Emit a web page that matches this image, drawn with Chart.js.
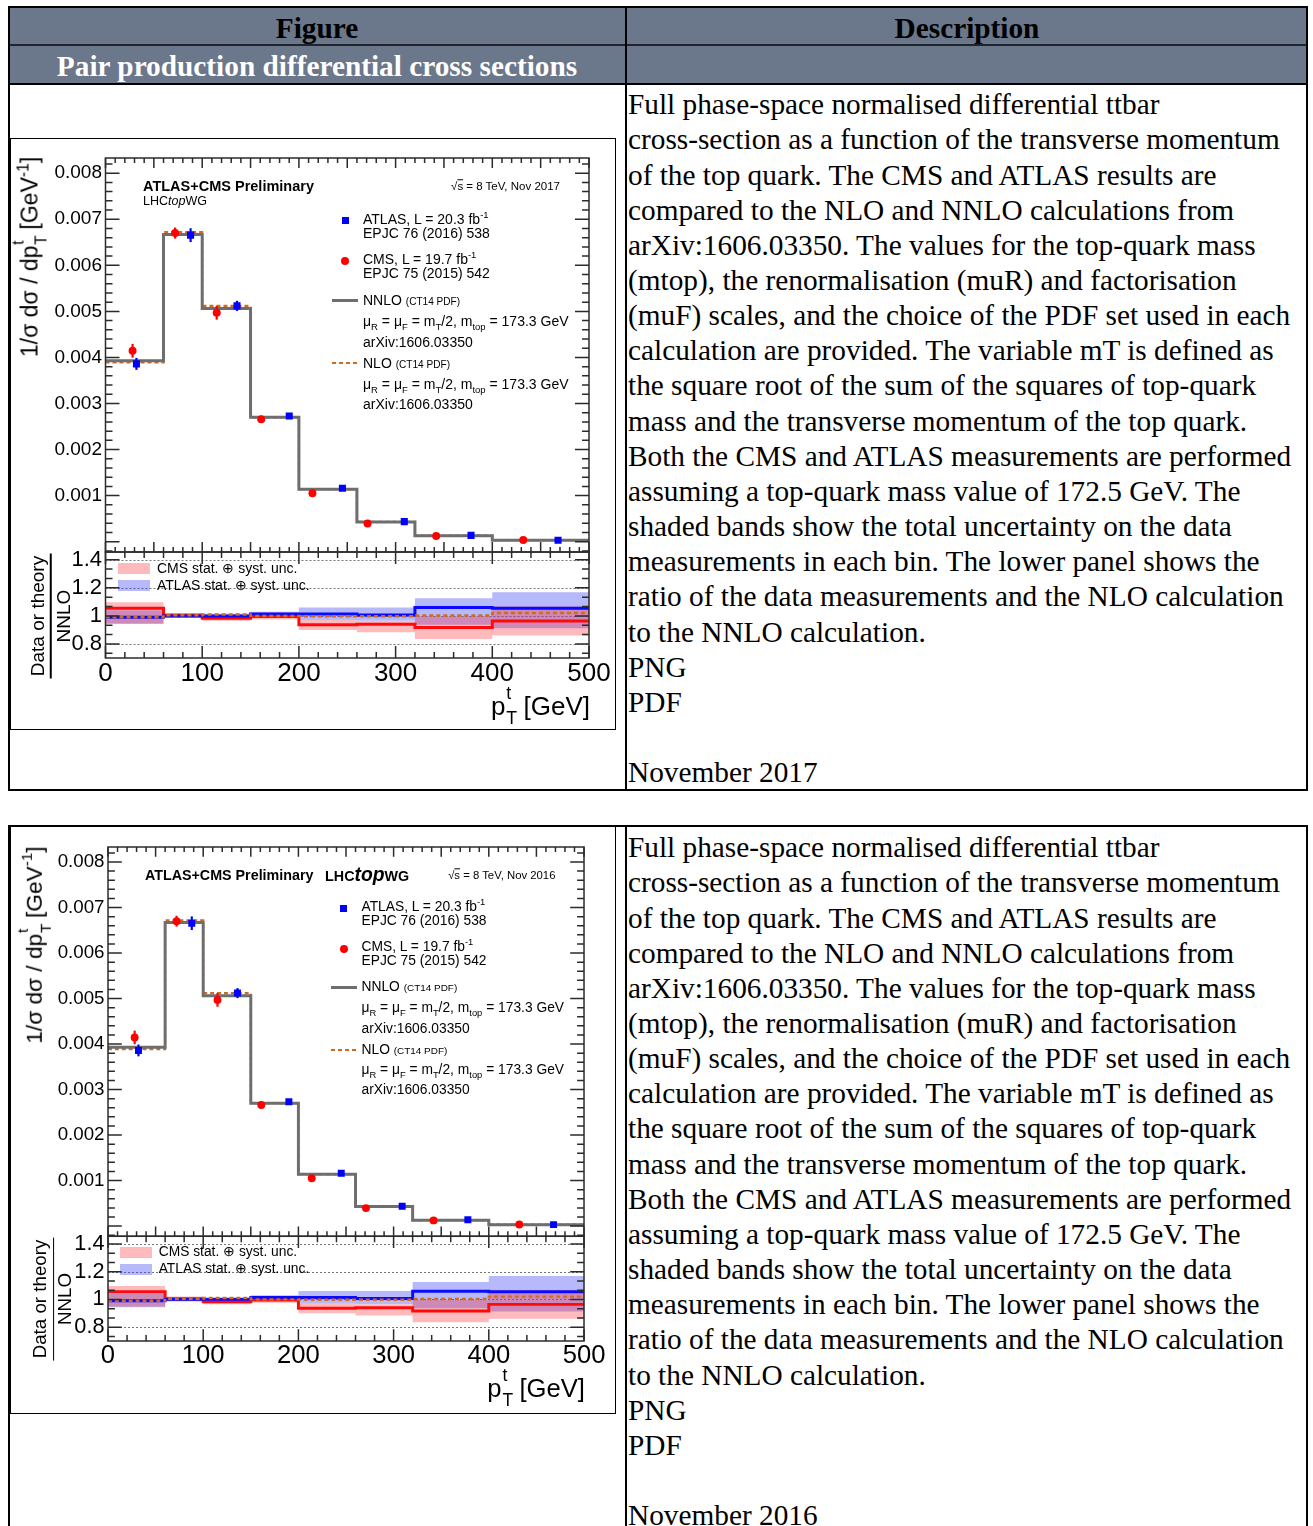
<!DOCTYPE html>
<html>
<head>
<meta charset="utf-8">
<title>Pair production differential cross sections</title>
<script src="https://cdn.jsdelivr.net/npm/chart.js@4.4.1/dist/chart.umd.min.js"></script>
<style>
  html, body { margin: 0; padding: 0; background: #fff; overflow: hidden; width: 1313px; height: 1526px; }
  #page { position: relative; width: 1313px; height: 1526px; font-family: "Liberation Serif", "Times New Roman", serif; }
  .t { position: absolute; white-space: nowrap; }
  .t sub { font-size: 0.68em; vertical-align: -0.45em; line-height: 0; }
  .t sup { font-size: 0.68em; vertical-align: 0.6em; line-height: 0; }
  .stk { position: relative; display: inline-block; width: 0.42em; height: 1em; }
  .stk .up { position: absolute; left: 0.05em; top: -0.25em; font-size: 0.68em; }
  .stk .dn { position: absolute; left: 0.05em; top: 1.2em; font-size: 0.68em; }
  .desc { font-size: 29.3px; line-height: 35.15px; color: #000; }
  .head { font-weight: bold; font-size: 29.3px; line-height: 35.15px; transform: translateX(-50%); }
  canvas { position: absolute; }
</style>
</head>
<body>
<div id="page"></div>
<script>
// ---- values ----
const binEdges = [0, 60, 100, 150, 200, 260, 320, 400, 500];
const nnloXsec = [0.00393, 0.00667, 0.00506, 0.00270, 0.00114, 0.00043, 0.00013, 0.00003];
const nloXsec = [0.00389, 0.00672, 0.00512, 0.00270, 0.00114, 0.00043, 0.00013, 0.000031];

const cmsPt = [28, 72, 115, 161, 214, 271, 342, 432];
const cmsXsec = [0.004145, 0.00670, 0.00497, 0.00266, 0.00105, 0.000395, 0.000125, 0.000035];
const cmsErr = [0.00015, 0.00012, 0.00015, 0.00006, 0.00003, 0.000012, 0.000006, 0.000002];

const atlasPt = [32, 88, 136, 190, 245, 309, 378, 468];
const atlasXsec = [0.00386, 0.006655, 0.00512, 0.00273, 0.00116, 0.000435, 0.000137, 0.000032];
const atlasErr = [0.00013, 0.00015, 0.00011, 0.00004, 0.00003, 0.000012, 0.000006, 0.000002];

// lower panel: ratio to NNLO
const nloRatio = [0.99, 1.005, 1.01, 1.0, 0.998, 0.998, 1.003, 1.02];
const cmsRatio = [1.055, 1.005, 0.983, 0.995, 0.936, 0.94, 0.917, 0.964];
const cmsBandLo = [0.948, 0.99, 0.965, 0.975, 0.90, 0.884, 0.836, 0.86];
const cmsBandHi = [1.097, 1.02, 1.0, 1.015, 0.97, 0.964, 0.995, 1.066];
const atlasRatio = [0.99, 1.0, 1.0, 1.014, 1.014, 1.007, 1.059, 1.055];
const atlasBandLo = [0.943, 0.985, 0.985, 0.995, 0.97, 0.965, 0.936, 0.912];
const atlasBandHi = [1.04, 1.015, 1.015, 1.03, 1.06, 1.06, 1.126, 1.169];

// tick labels
const yTicksTop = [0.001, 0.002, 0.003, 0.004, 0.005, 0.006, 0.007, 0.008];
const yLabelsTop = ['0.001', '0.002', '0.003', '0.004', '0.005', '0.006', '0.007', '0.008'];
const yTicksRatio = [0.8, 1.0, 1.2, 1.4];
const yLabelsRatio = ['0.8', '1', '1.2', '1.4'];
const xTicks = [0, 100, 200, 300, 400, 500];
const xLabels = ['0', '100', '200', '300', '400', '500'];

const NLO_COL = '#d2691e';
const NNLO_COL = '#6e6e6e';
const CMS_BAND = 'rgba(255, 40, 50, 0.32)';
const ATLAS_BAND = 'rgba(40, 50, 240, 0.34)';
const HEAD_BG = '#6b778a';

const page = document.getElementById('page');

function el(tag, cls, css, html) {
    const d = document.createElement(tag);
    if (cls) d.className = cls;
    d.style.cssText = css;
    if (html) d.innerHTML = html;
    page.appendChild(d);
    return d;
}
function rect(x, y, w, h, css) {
    return el('div', '', `position:absolute;left:${x}px;top:${y}px;width:${w}px;height:${h}px;box-sizing:border-box;${css}`);
}
function txt(x, y, html, css, cls) {
    return el('div', 't ' + (cls || ''), `left:${x}px;top:${y}px;${css}`, html);
}

// histogram as a stepped line: one point per left bin edge plus the last right edge
function histPts(vals) {
    return binEdges.map((e, i) => ({ x: e, y: vals[Math.min(i, vals.length - 1)] }));
}

// ROOT style frame with ticks pointing inwards on all four sides
const rootFrame = {
    id: 'rootFrame',
    afterDatasetsDraw(chart, args, o) {
        const { ctx, chartArea: a } = chart;
        const xs = chart.scales.x, ys = chart.scales.y;
        ctx.save();
        ctx.strokeStyle = '#2b2b2b';
        ctx.lineWidth = o.lw;
        ctx.beginPath();
        const k0 = Math.ceil((xs.min - o.xBase) / o.xMinor - 1e-6);
        for (let k = k0; o.xBase + k * o.xMinor <= xs.max + 1e-6; k++) {
            const p = xs.getPixelForValue(o.xBase + k * o.xMinor);
            const L = (((k % o.xEvery) + o.xEvery) % o.xEvery === 0) ? o.xLen : o.xLen / 2;
            ctx.moveTo(p, a.bottom); ctx.lineTo(p, a.bottom - L);
            ctx.moveTo(p, a.top); ctx.lineTo(p, a.top + L);
        }
        const j0 = Math.ceil((ys.min - o.yBase) / o.yMinor - 1e-6);
        for (let k = j0; o.yBase + k * o.yMinor <= ys.max + o.yMinor * 1e-6; k++) {
            const p = ys.getPixelForValue(o.yBase + k * o.yMinor);
            const L = (((k % o.yEvery) + o.yEvery) % o.yEvery === 0) ? o.yLen : o.yLen / 2;
            ctx.moveTo(a.left, p); ctx.lineTo(a.left + L, p);
            ctx.moveTo(a.right, p); ctx.lineTo(a.right - L, p);
        }
        ctx.stroke();
        ctx.strokeRect(a.left, a.top, a.right - a.left, a.bottom - a.top);
        ctx.restore();
    }
};

// dotted reference lines in the ratio panel
const refLines = {
    id: 'refLines',
    beforeDatasetsDraw(chart, args, o) {
        if (!o.values || !o.values.length) return;
        const { ctx, chartArea: a } = chart;
        const ys = chart.scales.y;
        ctx.save();
        ctx.strokeStyle = '#777';
        ctx.lineWidth = o.width;
        ctx.setLineDash(o.dash);
        o.values.forEach(v => {
            const p = Math.round(ys.getPixelForValue(v)) + 0.5;
            ctx.beginPath(); ctx.moveTo(a.left, p); ctx.lineTo(a.right, p); ctx.stroke();
        });
        ctx.restore();
    }
};

// vertical error bars under the markers
const errorBars = {
    id: 'errorBars',
    beforeDatasetDraw(chart, args) {
        const ds = chart.data.datasets[args.index];
        if (!ds.yErr) return;
        const { ctx } = chart;
        const xs = chart.scales.x, ys = chart.scales.y;
        ctx.save();
        ctx.strokeStyle = ds.backgroundColor;
        ctx.lineWidth = ds.errWidth;
        ds.data.forEach((p, i) => {
            const px = xs.getPixelForValue(p.x);
            ctx.beginPath();
            ctx.moveTo(px, ys.getPixelForValue(p.y - ds.yErr[i]));
            ctx.lineTo(px, ys.getPixelForValue(p.y + ds.yErr[i]));
            ctx.stroke();
        });
        ctx.restore();
    }
};

function makeCanvas(l, r, t, b, axL, padR, padT, padB) {
    const cl = Math.round(l) - axL, ct = Math.round(t) - padT;
    const w = Math.ceil(r - cl + padR), h = Math.ceil(b - ct + padB);
    const c = el('canvas', '', `left:${cl}px;top:${ct}px;width:${w}px;height:${h}px`);
    c.width = w; c.height = h;
    return { canvas: c, axisW: l - cl, top: t - ct, right: w - (r - cl), bottom: h - (b - ct) };
}

const noGrid = { display: false, drawTicks: false, tickLength: 0 };

function drawFigure(f) {
    const X = x => f.ox + (x - 105.5) * f.sx;
    const Y = y => f.oy + (y - 158) * f.sy;
    const s = (f.sx + f.sy) / 2;
    const plotL = X(105.5), plotR = X(589), upT = Y(158), upB = Y(552), loB = Y(658);
    const tickFont = size => ({ family: 'Liberation Sans', size: size * s });

    // ---------- upper panel ----------
    const cu = makeCanvas(plotL, plotR, upT, upB, 80, 30, 20, 20);
    new Chart(cu.canvas, {
        type: 'line',
        data: {
            datasets: [
                {
                    data: atlasPt.map((x, i) => ({ x, y: atlasXsec[i] })), showLine: false,
                    pointStyle: 'rect', pointRadius: 5 * s, backgroundColor: '#0000ff', pointBorderWidth: 0,
                    borderColor: '#0000ff', yErr: atlasErr, errWidth: 2.2 * s
                },
                {
                    data: cmsPt.map((x, i) => ({ x, y: cmsXsec[i] })), showLine: false,
                    pointStyle: 'circle', pointRadius: 4 * s, backgroundColor: '#ff0000', pointBorderWidth: 0,
                    borderColor: '#ff0000', yErr: cmsErr, errWidth: 2.2 * s
                },
                {
                    data: histPts(nnloXsec), stepped: 'before', borderColor: NNLO_COL, borderWidth: 3 * s,
                    pointRadius: 0, fill: false
                },
                {
                    data: histPts(nloXsec), stepped: 'before', borderColor: NLO_COL, borderWidth: 2.2 * s,
                    borderDash: [4 * s, 3 * s], pointRadius: 0, fill: false
                }
            ]
        },
        options: {
            responsive: false, animation: false, devicePixelRatio: 1,
            layout: { padding: { left: 0, top: cu.top, right: cu.right, bottom: cu.bottom } },
            plugins: {
                legend: { display: false }, tooltip: { enabled: false },
                rootFrame: { lw: 1.5, xBase: 0, xMinor: 10, xEvery: 5, xLen: 10 * s, yBase: 0, yMinor: 0.0002, yEvery: 5, yLen: 14 * s },
                refLines: { values: [] }
            },
            scales: {
                x: { type: 'linear', min: 0, max: 500, display: false },
                y: {
                    type: 'linear', min: -0.000224, max: 0.00833,
                    afterFit: sc => { sc.width = cu.axisW; sc.paddingTop = 0; sc.paddingBottom = 0; },
                    afterBuildTicks: sc => { sc.ticks = yTicksTop.map(v => ({ value: v })); },
                    ticks: { callback: (v, i) => yLabelsTop[i], font: tickFont(19), color: '#000', padding: 3.5, autoSkip: false },
                    grid: noGrid, border: { display: false }
                }
            }
        },
        plugins: [rootFrame, refLines, errorBars]
    });

    // ---------- ratio panel ----------
    const cr = makeCanvas(plotL, plotR, upB, loB, 80, 30, 20, 60);
    const flat = { stepped: 'before', pointRadius: 0, borderWidth: 0, borderColor: 'rgba(0,0,0,0)' };
    new Chart(cr.canvas, {
        type: 'line',
        data: {
            datasets: [
                { data: histPts(nloRatio), stepped: 'before', borderColor: NLO_COL, borderWidth: 2.5 * s, borderDash: [4 * s, 3 * s], pointRadius: 0, fill: false },
                { data: histPts(atlasRatio), stepped: 'before', borderColor: '#0a0aff', borderWidth: 3 * s, pointRadius: 0, fill: false },
                { data: histPts(cmsRatio), stepped: 'before', borderColor: '#ff0a0a', borderWidth: 3 * s, pointRadius: 0, fill: false },
                Object.assign({ data: histPts(cmsBandHi), fill: '+1', backgroundColor: CMS_BAND }, flat),
                Object.assign({ data: histPts(cmsBandLo), fill: false }, flat),
                Object.assign({ data: histPts(atlasBandHi), fill: '+1', backgroundColor: ATLAS_BAND }, flat),
                Object.assign({ data: histPts(atlasBandLo), fill: false }, flat)
            ]
        },
        options: {
            responsive: false, animation: false, devicePixelRatio: 1,
            layout: { padding: { left: 0, top: cr.top, right: cr.right, bottom: 0 } },
            plugins: {
                legend: { display: false }, tooltip: { enabled: false },
                rootFrame: { lw: 1.5, xBase: 0, xMinor: 20, xEvery: 5, xLen: 12 * s, yBase: 0.8, yMinor: 0.2 / 3, yEvery: 3, yLen: 14 * s },
                refLines: { values: yTicksRatio, width: 1, dash: [2, 2] }
            },
            scales: {
                x: {
                    type: 'linear', min: 0, max: 500,
                    afterFit: sc => { sc.height = cr.bottom; sc.paddingLeft = 0; sc.paddingRight = 0; },
                    afterBuildTicks: sc => { sc.ticks = xTicks.map(v => ({ value: v })); },
                    ticks: { callback: (v, i) => xLabels[i], font: tickFont(26), color: '#000', padding: 0, maxRotation: 0, autoSkip: false },
                    grid: noGrid, border: { display: false }
                },
                y: {
                    type: 'linear', min: 0.7, max: 1.455,
                    afterFit: sc => { sc.width = cr.axisW; sc.paddingTop = 0; sc.paddingBottom = 0; },
                    afterBuildTicks: sc => { sc.ticks = yTicksRatio.map(v => ({ value: v })); },
                    ticks: { callback: (v, i) => yLabelsRatio[i], font: tickFont(22), color: '#000', padding: 3.5, autoSkip: false },
                    grid: noGrid, border: { display: false }
                }
            }
        },
        plugins: [rootFrame, refLines]
    });

    // ---------- text and legend overlays ----------
    const F = 'font-family:"Liberation Sans",Arial,sans-serif;color:#000;line-height:1;';
    const T = (x, cy, html, size, extra) => txt(X(x), Y(cy), html, `${F}font-size:${size * s}px;transform:translateY(-50%);${extra || ''}`);
    const TR = (xr, cy, html, size, extra) => txt(X(xr), Y(cy), html, `${F}font-size:${size * s}px;transform:translate(-100%,-50%);${extra || ''}`);
    const ptT = '<span class="stk"><span class="up">t</span><span class="dn">T</span></span>';

    txt(X(28), Y(257), `1/σ dσ / dp${ptT} [GeV<sup>-1</sup>]`,
        `${F}font-size:${23 * s}px;transform:translate(-50%,-50%) rotate(-90deg);`);
    txt(X(50), Y(615.5),
        `<div style="text-align:center">Data or theory</div><div style="height:${1.5 * s}px;background:#000;margin:${3 * s}px 0 ${2 * s}px"></div><div style="text-align:center">NNLO</div>`,
        `${F}font-size:${19 * s}px;width:${125 * s}px;transform:translate(-50%,-50%) rotate(-90deg);`);
    TR(590, 704, `p${ptT} [GeV]`, 26);

    T(143, 186, 'ATLAS+CMS Preliminary', 14.5, 'font-weight:bold;');
    if (f.oneLineTitle) {
        T(326, 186, 'LHC<span style="font-style:italic;font-size:1.35em">top</span>WG', 14.5, 'font-weight:bold;');
    } else {
        T(143, 201, 'LHC<i>top</i>WG', 12.5);
    }
    TR(560, 187, `√<span style="text-decoration:overline">s</span> = 8 TeV, ${f.stamp}`, 11.5);

    rect(X(345) - 3.5 * s, Y(220) - 3.5 * s, 7 * s, 7 * s, 'background:#0000ff');
    T(363, 219, 'ATLAS, L = 20.3 fb<sup>-1</sup>', 14);
    T(363, 233, 'EPJC 76 (2016) 538', 14);
    rect(X(345) - 4 * s, Y(261) - 4 * s, 8 * s, 8 * s, 'background:#ff0000;border-radius:50%');
    T(363, 259, 'CMS, L = 19.7 fb<sup>-1</sup>', 14);
    T(363, 273, 'EPJC 75 (2015) 542', 14);

    const mu = 'μ<sub>R</sub> = μ<sub>F</sub> = m<sub>T</sub>/2, m<sub>top</sub> = 173.3 GeV';
    rect(X(332), Y(300) - 1.5 * s, 26 * s, 3 * s, `background:${NNLO_COL}`);
    T(363, 300, 'NNLO <span style="font-size:0.72em">(CT14 PDF)</span>', 14);
    T(363, 321, mu, 14);
    T(363, 342, 'arXiv:1606.03350', 14);
    rect(X(332), Y(363) - 1, 26 * s, 2,
        `background:repeating-linear-gradient(90deg, ${NLO_COL} 0 4px, transparent 4px 7px)`);
    T(363, 363, 'NLO <span style="font-size:0.72em">(CT14 PDF)</span>', 14);
    T(363, 384, mu, 14);
    T(363, 404, 'arXiv:1606.03350', 14);

    rect(X(118), Y(563), 32 * s, 11 * s, `background:${CMS_BAND}`);
    T(157, 568, 'CMS stat. ⊕ syst. unc.', 14);
    rect(X(118), Y(580), 32 * s, 11 * s, `background:${ATLAS_BAND}`);
    T(157, 585, 'ATLAS stat. ⊕ syst. unc.', 14);
}

// ---------- page: two table blocks ----------
const descLines = [
    'Full phase-space normalised differential ttbar',
    'cross-section as a function of the transverse momentum',
    'of the top quark. The CMS and ATLAS results are',
    'compared to the NLO and NNLO calculations from',
    'arXiv:1606.03350. The values for the top-quark mass',
    '(mtop), the renormalisation (muR) and factorisation',
    '(muF) scales, and the choice of the PDF set used in each',
    'calculation are provided. The variable mT is defined as',
    'the square root of the sum of the squares of top-quark',
    'mass and the transverse momentum of the top quark.',
    'Both the CMS and ATLAS measurements are performed',
    'assuming a top-quark mass value of 172.5 GeV. The',
    'shaded bands show the total uncertainty on the data',
    'measurements in each bin. The lower panel shows the',
    'ratio of the data measurements and the NLO calculation',
    'to the NNLO calculation.',
    'PNG',
    'PDF',
    ''
];

// table 1 with header
rect(8, 6, 1300, 78, `background:${HEAD_BG}`);
rect(8, 44, 1300, 1.5, 'background:#20242b');
rect(8, 82.5, 1300, 2, 'background:#000');
rect(625, 6, 2, 784, 'background:#000');
rect(8, 6, 1300, 785, 'border:2px solid #000');
txt(317, 10.5, 'Figure', '', 'head');
txt(967, 10.5, 'Description', '', 'head');
txt(317, 48.5, 'Pair production differential cross sections', 'color:#fff', 'head');
txt(628, 87.2, descLines.concat(['November 2017']).map(l => l || '&nbsp;').join('<br>'), '', 'desc');
rect(10, 138, 606, 592, 'border:1px solid #000');

// table 2
rect(625, 825, 2, 760, 'background:#000');
rect(8, 825, 1300, 760, 'border:2px solid #000');
txt(628, 830.2, descLines.concat(['November 2016']).map(l => l || '&nbsp;').join('<br>'), '', 'desc');
rect(10, 826, 606, 588, 'border:1px solid #000');

drawFigure({ ox: 105.5, oy: 158, sx: 1, sy: 1, stamp: 'Nov 2017', oneLineTitle: false });
drawFigure({ ox: 108, oy: 847, sx: 0.9845, sy: 0.988, stamp: 'Nov 2016', oneLineTitle: true });
</script>
</body>
</html>
